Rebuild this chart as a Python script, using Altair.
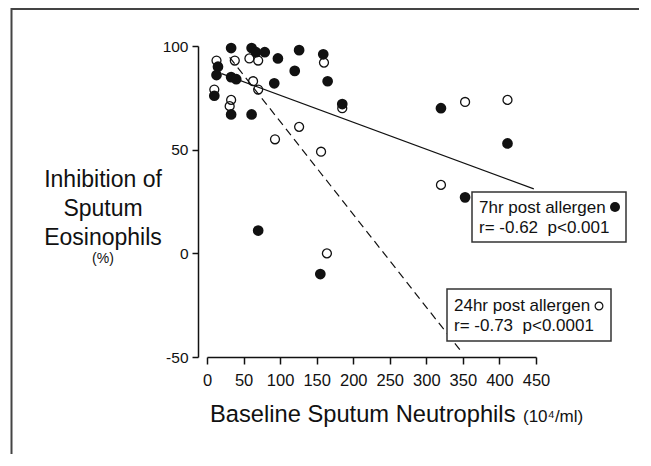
import altair as alt
import pandas as pd

# 7hr post allergen (filled circles)
filled_x = [33, 61, 67, 79, 97, 126, 159, 120, 15, 13, 33, 40, 92, 165, 10, 33, 61, 185, 70, 155, 320, 411, 353]
filled_y = [99, 99, 97, 97, 94, 98, 96, 88, 90, 86, 85, 84, 82, 83, 76, 67, 67, 72, 11, -10, 70, 53, 27]
# 24hr post allergen (open circles)
open_x = [13, 38, 58, 70, 63, 70, 10, 33, 31, 160, 185, 126, 93, 156, 164, 353, 411, 320]
open_y = [93, 93, 94, 93, 83, 79, 79, 74, 71, 92, 70, 61, 55, 49, 0, 73, 74, 33]
# regression line end points
line7_x = [20, 447]
line7_y = [86.7, 31.1]
line24_x = [31, 349]
line24_y = [94.5, -47.9]

x_ticks = [0, 50, 100, 150, 200, 250, 300, 350, 400, 450]
y_ticks = [-50, 0, 50, 100]

FONT = "Liberation Sans"
W, H = 329, 311

filled_df = pd.DataFrame({"x": filled_x, "y": filled_y})
open_df = pd.DataFrame({"x": open_x, "y": open_y})
l7 = pd.DataFrame({"x": line7_x, "y": line7_y})
l24 = pd.DataFrame({"x": line24_x, "y": line24_y})

xs = alt.Scale(domain=[0, 450], nice=False, zero=False)
ys = alt.Scale(domain=[-50, 100], nice=False, zero=False)

xaxis = alt.Axis(values=x_ticks, title=None, grid=False, tickSize=7, labelFontSize=16.5,
                 labelPadding=8, domainColor="#111", tickColor="#111", domainWidth=1.5,
                 tickWidth=1.5, labelColor="#111", labelFont=FONT, labelFlush=False,
                 labelOverlap=False, labelExpr="'' + datum.value")
yaxis = alt.Axis(values=y_ticks, title=None, grid=False, tickSize=6, labelFontSize=15.5,
                 labelPadding=4, offset=9, domainColor="#111", tickColor="#111", domainWidth=1.5,
                 tickWidth=1.5, labelColor="#111", labelFont=FONT, labelOverlap=False,
                 labelExpr="'' + datum.value")

X = alt.X("x:Q", scale=xs, axis=xaxis)
Y = alt.Y("y:Q", scale=ys, axis=yaxis)

base_open = alt.Chart(open_df).mark_point(shape="circle", filled=False, size=80, stroke="#111",
                                          strokeWidth=1.3, opacity=1).encode(x=X, y=Y)
line_solid = alt.Chart(l7).mark_line(color="#111", strokeWidth=1.2).encode(x=X, y=Y)
line_dash = alt.Chart(l24).mark_line(color="#111", strokeWidth=1.2, strokeDash=[8, 5]).encode(x=X, y=Y)
pts_filled = alt.Chart(filled_df).mark_point(shape="circle", filled=True, size=115, color="#111",
                                             opacity=1).encode(x=X, y=Y)

one = pd.DataFrame({"d": [0]})


def txt(s, x, y, size, align="left", baseline="alphabetic"):
    return alt.Chart(one).mark_text(text=s, font=FONT, fontSize=size, align=align,
                                    baseline=baseline, color="#111").encode(
        x=alt.value(x), y=alt.value(y))


def box(x1, x2, y1, y2):
    return alt.Chart(one).mark_rect(fill="white", stroke="#333", strokeWidth=1.5).encode(
        x=alt.value(x1), x2=alt.value(x2), y=alt.value(y1), y2=alt.value(y2))


legend_sym_filled = alt.Chart(one).mark_point(shape="circle", filled=True, size=100, color="#111",
                                              opacity=1).encode(x=alt.value(408), y=alt.value(161))
legend_sym_open = alt.Chart(one).mark_point(shape="circle", filled=False, size=60, stroke="#111",
                                            strokeWidth=1.2, opacity=1).encode(x=alt.value(392), y=alt.value(260))

# page frame (top and left edges visible, others run off the page)
frame = alt.Chart(one).mark_rect(fill=None, stroke="#444", strokeWidth=2).encode(
    x=alt.value(-195.5), x2=alt.value(480), y=alt.value(-37), y2=alt.value(460))

NB = "\u00a0"
chart = alt.layer(
    frame,
    base_open, line_solid, line_dash, pts_filled,
    box(265, 419, 146, 196), box(240, 404, 243, 295),
    txt("7hr post allergen", 272, 167, 17),
    txt("r= -0.62" + NB + NB + "p<0.001", 272, 187, 17),
    txt("24hr post allergen", 247, 265, 17),
    txt("r= -0.73" + NB + NB + "p<0.0001", 247, 285, 17),
    legend_sym_filled, legend_sym_open,
    txt("Baseline Sputum Neutrophils", 3, 376, 23.7),
    txt("(10\u2074/ml)", 316, 376, 17),
    txt("Inhibition of", -104, 141, 23, align="center"),
    txt("Sputum", -104, 170, 23, align="center"),
    txt("Eosinophils", -104, 199, 23, align="center"),
    txt("(%)", -104, 217, 14, align="center"),
).properties(
    width=W, height=H,
    autosize=alt.AutoSizeParams(type="none"),
    padding={"left": 199, "top": 38, "right": 103, "bottom": 97},
).configure_view(stroke=None)

chart.save("out.html", embed_options={"renderer": "svg", "actions": False})
